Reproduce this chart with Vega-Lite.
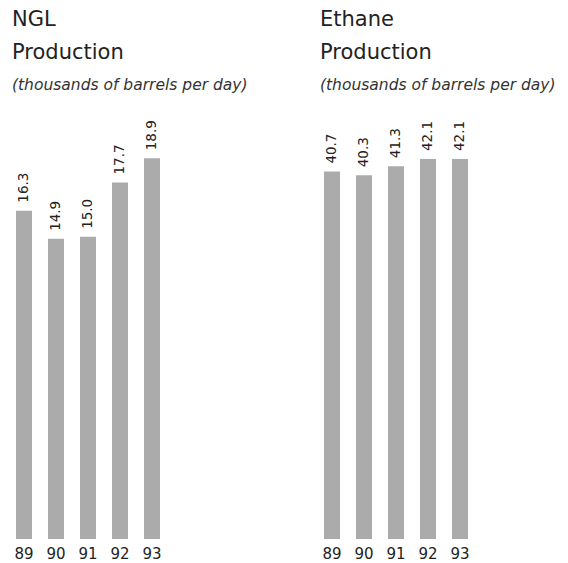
{
  "$schema": "https://vega.github.io/schema/vega-lite/v6.json",
  "padding": {"left": 8, "top": 8, "right": 8, "bottom": 1},
  "background": "white",
  "spacing": 148,
  "bounds": "flush",
  "datasets": {
    "ngl": [
      {"year": "89", "value": 16.3},
      {"year": "90", "value": 14.9},
      {"year": "91", "value": 15.0},
      {"year": "92", "value": 17.7},
      {"year": "93", "value": 18.9}
    ],
    "ethane": [
      {"year": "89", "value": 40.7},
      {"year": "90", "value": 40.3},
      {"year": "91", "value": 41.3},
      {"year": "92", "value": 42.1},
      {"year": "93", "value": 42.1}
    ]
  },
  "config": {
    "view": {"stroke": null},
    "font": "DejaVu Sans",
    "title": {
      "anchor": "start",
      "frame": "group",
      "font": "DejaVu Sans",
      "fontSize": 21,
      "fontWeight": "normal",
      "lineHeight": 33,
      "color": "#222222",
      "subtitleFont": "DejaVu Sans",
      "subtitleFontSize": 15.5,
      "subtitleFontStyle": "italic",
      "subtitleColor": "#333333",
      "subtitlePadding": 15,
      "offset": 23,
      "dx": 4
    },
    "axisX": {
      "domain": false,
      "ticks": false,
      "labelAngle": 0,
      "labelFont": "DejaVu Sans",
      "labelFontSize": 15,
      "labelColor": "#222222",
      "labelPadding": 7,
      "title": null
    }
  },
  "hconcat": [
    {
      "title": {"text": ["NGL", "Production"], "subtitle": "(thousands of barrels per day)"},
      "data": {"name": "ngl"},
      "width": 160,
      "height": 423,
      "encoding": {
        "x": {"field": "year", "type": "nominal", "scale": {"paddingInner": 0.5, "paddingOuter": 0.25}, "axis": {"title": null}},
        "y": {"field": "value", "type": "quantitative", "scale": {"domain": [0, 21], "nice": false, "zero": true}, "axis": null}
      },
      "layer": [
        {"mark": {"type": "bar", "color": "#ababab"}},
        {"mark": {"type": "text", "angle": -90, "align": "left", "baseline": "middle", "dx": 8, "fontSize": 13.5, "color": "#222222"},
         "encoding": {"text": {"field": "value", "type": "quantitative", "format": ".1f"}}}
      ]
    },
    {
      "title": {"text": ["Ethane", "Production"], "subtitle": "(thousands of barrels per day)"},
      "data": {"name": "ethane"},
      "width": 160,
      "height": 423,
      "encoding": {
        "x": {"field": "year", "type": "nominal", "scale": {"paddingInner": 0.5, "paddingOuter": 0.25}, "axis": {"title": null}},
        "y": {"field": "value", "type": "quantitative", "scale": {"domain": [0, 46.86], "nice": false, "zero": true}, "axis": null}
      },
      "layer": [
        {"mark": {"type": "bar", "color": "#ababab"}},
        {"mark": {"type": "text", "angle": -90, "align": "left", "baseline": "middle", "dx": 8, "fontSize": 13.5, "color": "#222222"},
         "encoding": {"text": {"field": "value", "type": "quantitative", "format": ".1f"}}}
      ]
    }
  ]
}
